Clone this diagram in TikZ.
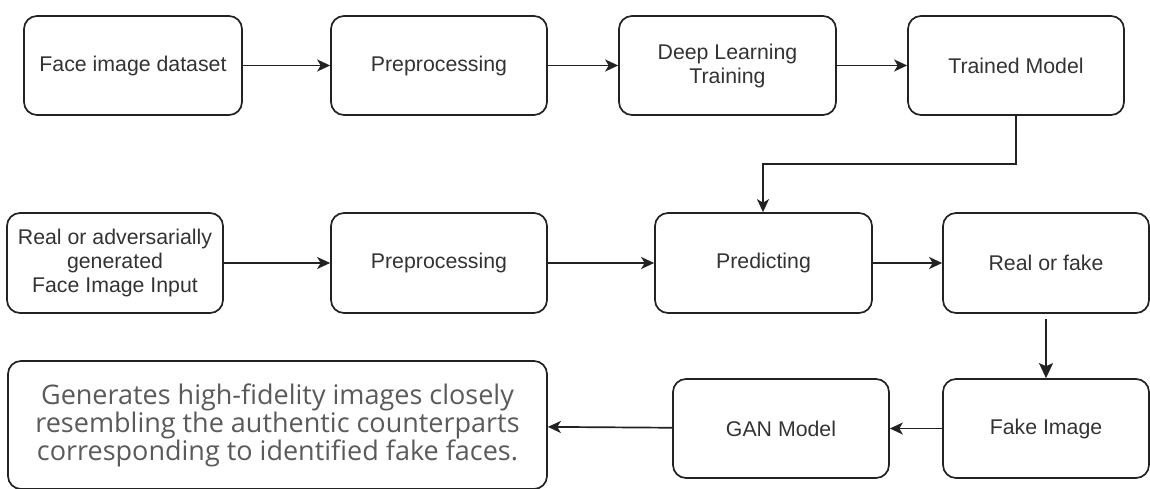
\documentclass[tikz,border=0pt]{standalone}
\usepackage{fontspec}
\setmainfont{Liberation Sans}
\newfontfamily\segoe{Open Sans}
\usetikzlibrary{arrows.meta}
\definecolor{linec}{HTML}{222222}
\definecolor{txtc}{HTML}{333333}
\definecolor{greytxt}{HTML}{5A5A5A}
\tikzset{
  box/.style={draw=linec, line width=1.7pt, rounded corners=13pt, inner sep=0pt,
    align=center, text=txtc, font=\fontsize{21.3pt}{24pt}\selectfont},
  conn/.style={draw=linec, line width=1.7pt, -{Stealth[length=13pt,width=12pt,inset=3.5pt]}},
  bigconn/.style={draw=linec, line width=1.7pt, -{Stealth[length=15pt,width=14pt,inset=3pt]}},
}
\begin{document}
\begin{tikzpicture}[x=1pt,y=-1pt]
\useasboundingbox (0,0) rectangle (1150,489);
\clip (0,0) rectangle (1150,489);
% row 1
\node[box, minimum width=218pt, minimum height=99pt] (fds) at (133,65.5) {Face image dataset};
\node[box, minimum width=216pt, minimum height=99pt] (pre1) at (439,65.5) {Preprocessing};
\node[box, minimum width=217pt, minimum height=99pt] (dl) at (727.5,65.5) {Deep Learning\\Training};
\node[box, minimum width=216pt, minimum height=99pt] (tm) at (1016,65.5) {Trained Model};
% row 2
\node[box, minimum width=216pt, minimum height=100pt] (real) at (115,263) {Real or adversarially\\generated\\Face Image Input};
\node[box, minimum width=216pt, minimum height=100pt] (pre2) at (439,263) {Preprocessing};
\node[box, minimum width=217pt, minimum height=100pt] (pred) at (763.5,263) {Predicting};
\node[box, minimum width=206pt, minimum height=100pt] (rof) at (1046,263) {Real or fake};
% row 3
\node[box, minimum width=539pt, minimum height=128pt, text=greytxt,
  font=\segoe\fontsize{27pt}{26.5pt}\selectfont] (gen) at (277.5,425)
  {Generates high-fidelity images closely\\resembling the authentic counterparts\\corresponding to identified fake faces.};
\node[box, minimum width=216pt, minimum height=99pt] (gan) at (781,428.5) {GAN Model};
\node[box, minimum width=206pt, minimum height=99pt] (fake) at (1046,428.5) {Fake Image};
% connectors
\draw[conn] (fds) -- (pre1);
\draw[conn] (pre1) -- (dl);
\draw[conn] (dl) -- (tm);
\coordinate (bend1) at (1016,164);
\coordinate (bend2) at (763,164);
\draw[conn] (tm.south) -- (bend1) -- (bend2) -- (bend2 |- pred.north);
\draw[conn] (real) -- (pre2);
\draw[conn] (pre2) -- (pred);
\draw[conn] (pred) -- (rof);
\draw[bigconn, shorten <=5pt] (rof.south) -- (fake.north);
\draw[conn] (fake) -- (gan);
\draw[conn] (gan) -- (gen);
\end{tikzpicture}
\end{document}
